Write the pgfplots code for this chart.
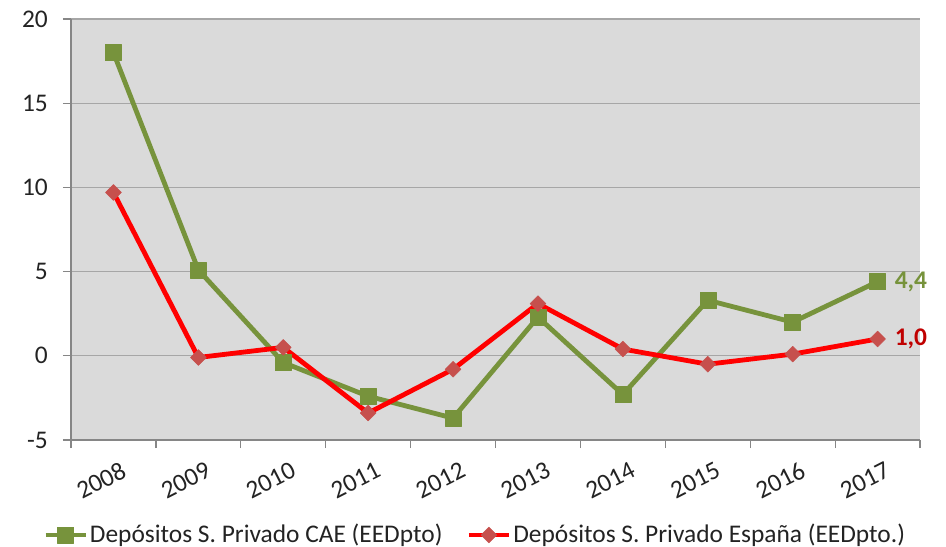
\documentclass[border=0pt]{standalone}
\usepackage{fontspec}
\setmainfont{Carlito}
\usepackage{pgfplots}
\pgfplotsset{compat=1.18}
\usetikzlibrary{calc}
\definecolor{oliveg}{RGB}{119,147,60}
\definecolor{bgray}{RGB}{218,218,218}
\definecolor{gridg}{RGB}{166,166,166}
\definecolor{axisg}{RGB}{134,134,134}
\definecolor{diamondr}{RGB}{198,80,77}
\definecolor{labelr}{RGB}{192,0,0}
\definecolor{txt}{RGB}{35,35,35}
\begin{document}
\fontsize{25.5}{30}\selectfont
\begin{tikzpicture}
\begin{axis}[
    scale only axis,
    width=849bp, height=421bp,
    xmin=-0.5, xmax=9.5,
    ymin=-5, ymax=20,
    ytick={-5,0,5,10,15,20},
    yticklabels={-5,0,5,10,15,20},
    xtick={-0.5,0.5,...,9.5},
    xticklabels={,,,,,,,,,,,},
    extra x ticks={0,1,2,3,4,5,6,7,8,9},
    extra x tick labels={2008,2009,2010,2011,2012,2013,2014,2015,2016,2017},
    extra x tick style={major tick length=0pt,
        tick label style={rotate=27, anchor=north east, yshift=-13bp, xshift=5bp}},
    axis x line*=bottom, axis y line*=left,
    axis line style={axisg, line width=1.2bp},
    tick style={axisg, line width=1.2bp},
    tick align=outside,
    major tick length=8bp,
    ymajorgrids,
    y grid style={gridg, line width=1.2bp},
    axis background/.style={fill=bgray},
    tick label style={text=txt, font=\fontsize{25.5}{30}\selectfont},
    yticklabel style={anchor=east, inner sep=0pt, xshift=-15bp},
    clip=false,
    legend columns=2,
    legend style={draw=none, fill=none, at={(axis description cs:0.476,-0.2257)},
        anchor=center, text=txt, font=\fontsize{25.5}{30}\selectfont,
        /tikz/every even column/.append style={column sep=22bp}},
    legend cell align=left,
    legend image code/.code={\draw[#1, mark repeat=2, mark phase=2]
        plot coordinates {(0bp,0bp) (20bp,0bp) (40bp,0bp)};},
]
\addplot[oliveg, line width=4.8bp, line join=round,
    mark=square*, mark size=8bp, mark options={solid, fill=oliveg, draw=oliveg, line width=0.5bp}]
coordinates {
(0,18.0) (1,5.1) (2,-0.4) (3,-2.4) (4,-3.7) (5,2.3) (6,-2.3) (7,3.3) (8,2.0) (9,4.4)
};
\addlegendentry{Depósitos S. Privado CAE (EEDpto)}
\addplot[red, line width=4.8bp, line join=round,
    mark=square*, mark size=5.6bp, mark options={solid, rotate=45, fill=diamondr, draw=diamondr, line width=0.5bp}]
coordinates {
(0,9.7) (1,-0.1) (2,0.5) (3,-3.4) (4,-0.8) (5,3.1) (6,0.4) (7,-0.5) (8,0.1) (9,1.0)
};
\addlegendentry{Depósitos S. Privado España (EEDpto.)}
\node[anchor=west, inner sep=0pt, text=oliveg, font=\fontsize{25.5}{30}\selectfont\bfseries] at (axis cs:9,4.4) [xshift=17bp] {4,4};
\node[anchor=west, inner sep=0pt, text=labelr, font=\fontsize{25.5}{30}\selectfont\bfseries] at (axis cs:9,1.0) [xshift=17bp] {1,0};
\coordinate (sw) at (rel axis cs:0,0);
\coordinate (ne) at (rel axis cs:1,1);
\end{axis}
\pgfresetboundingbox
\path[use as bounding box] ($(sw)+(-71bp,-107bp)$) rectangle ($(ne)+(26bp,19bp)$);
\end{tikzpicture}
\end{document}
